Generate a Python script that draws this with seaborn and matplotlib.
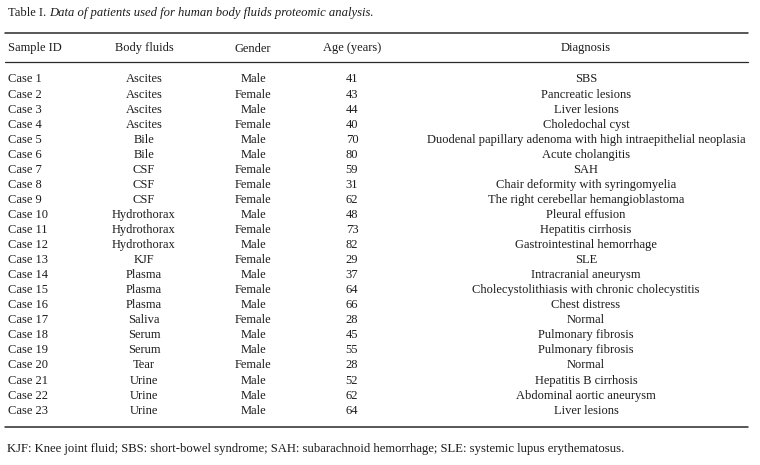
import matplotlib
matplotlib.use("Agg")
import matplotlib.pyplot as plt
import seaborn as sns
import pandas as pd

sns.set_theme(style="white")
plt.rcParams['font.family'] = ['Liberation Serif', 'DejaVu Serif']

title_prefix = "Table I. "
title_italic = "Data of patients used for human body fluids proteomic analysis."
headers = ["Sample ID", "Body fluids", "Gender", "Age (years)", "Diagnosis"]
sample_ids = [f"Case {i}" for i in range(1, 24)]
body_fluids = ["Ascites", "Ascites", "Ascites", "Ascites", "Bile", "Bile", "CSF", "CSF", "CSF",
               "Hydrothorax", "Hydrothorax", "Hydrothorax", "KJF", "Plasma", "Plasma", "Plasma",
               "Saliva", "Serum", "Serum", "Tear", "Urine", "Urine", "Urine"]
genders = ["Male", "Female", "Male", "Female", "Male", "Male", "Female", "Female", "Female",
           "Male", "Female", "Male", "Female", "Male", "Female", "Male", "Female", "Male",
           "Male", "Female", "Male", "Male", "Male"]
ages = [41, 43, 44, 40, 70, 80, 59, 31, 62, 48, 73, 82, 29, 37, 64, 66, 28, 45, 55, 28, 52, 62, 64]
diagnoses = ["SBS", "Pancreatic lesions", "Liver lesions", "Choledochal cyst",
             "Duodenal papillary adenoma with high intraepithelial neoplasia",
             "Acute cholangitis", "SAH", "Chair deformity with syringomyelia",
             "The right cerebellar hemangioblastoma", "Pleural effusion", "Hepatitis cirrhosis",
             "Gastrointestinal hemorrhage", "SLE", "Intracranial aneurysm",
             "Cholecystolithiasis with chronic cholecystitis", "Chest distress", "Normal",
             "Pulmonary fibrosis", "Pulmonary fibrosis", "Normal", "Hepatitis B cirrhosis",
             "Abdominal aortic aneurysm", "Liver lesions"]
footnote = ("KJF: Knee joint fluid; SBS: short-bowel syndrome; SAH: subarachnoid hemorrhage; "
            "SLE: systemic lupus erythematosus.")

df = pd.DataFrame({"Sample ID": sample_ids, "Body fluids": body_fluids, "Gender": genders,
                   "Age (years)": ages, "Diagnosis": diagnoses})

W, H = 760, 465
fig = plt.figure(figsize=(W / 100, H / 100), dpi=100)
ax = fig.add_axes([0, 0, 1, 1])
ax.set_xlim(0, W)
ax.set_ylim(H, 0)
ax.axis("off")

ink = "#1c1c1c"
fs = 9.0

# column anchors
col_x = [8, 144, 253, 352, 586]
col_ha = ["left", "center", "center", "center", "center"]

# title
t = ax.text(8, 13, title_prefix, fontsize=fs, color=ink, ha="left", va="center")
fig.canvas.draw()
r = fig.canvas.get_renderer()
bb = t.get_window_extent(renderer=r)
ax.text(8 + bb.width, 13, title_italic, fontsize=fs * 1.015, color=ink, ha="left",
        va="center", style="italic")

# rules
rule_x = [5, 748]
for yy, lw in [(33.5, 1.1), (62.5, 0.9), (427, 1.1)]:
    sns.lineplot(x=rule_x, y=[yy, yy], ax=ax, color="#2a2a2a", linewidth=lw, legend=False)

# header
for x, ha, h in zip(col_x, col_ha, headers):
    ax.text(x, 48.5, h, fontsize=fs, color=ink, ha=ha, va="center")

# rows
y0, dy = 79.5, 15.05
for i, row in df.iterrows():
    y = y0 + i * dy
    for x, ha, c in zip(col_x, col_ha, headers):
        ax.text(x, y, str(row[c]), fontsize=fs, color=ink, ha=ha, va="center")

ax.text(7, 449, footnote, fontsize=9.1, color=ink, ha="left", va="center")

fig.savefig("out.png", dpi=100, facecolor="white")
